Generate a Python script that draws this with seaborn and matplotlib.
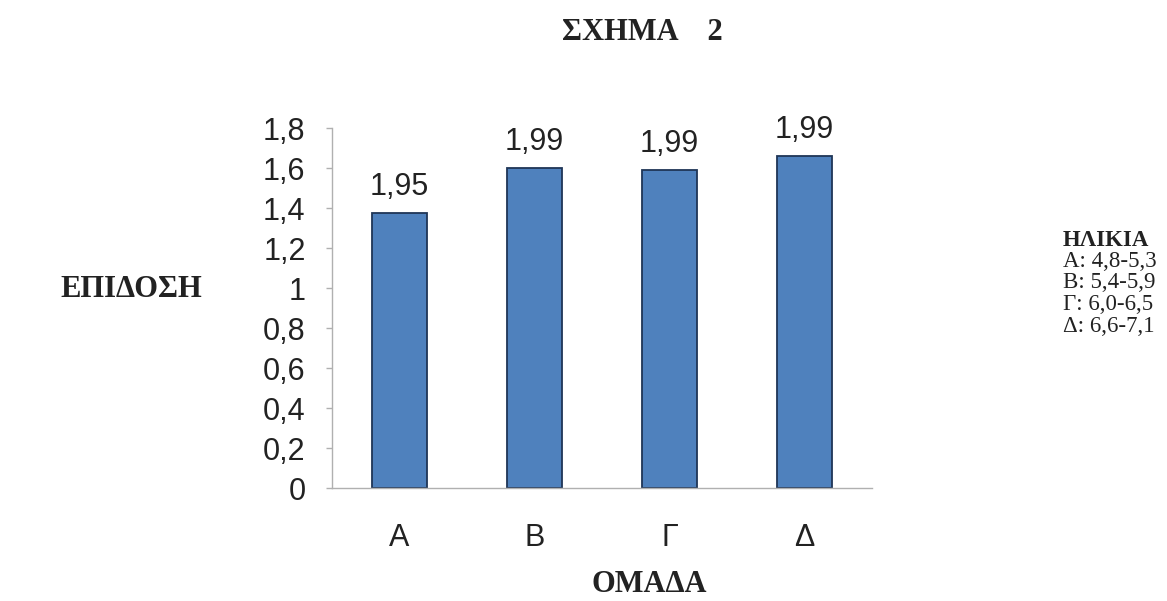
import matplotlib
matplotlib.use("Agg")
import matplotlib.pyplot as plt
import seaborn as sns
import pandas as pd

# Group performance by age group
groups = ["Α", "Β", "Γ", "Δ"]
performance = [1.375, 1.60, 1.59, 1.66]
bar_notes = ["1,95", "1,99", "1,99", "1,99"]

y_ticks = [0, 0.2, 0.4, 0.6, 0.8, 1.0, 1.2, 1.4, 1.6, 1.8]
y_tick_labels = ["0", "0,2", "0,4", "0,6", "0,8", "1", "1,2", "1,4", "1,6", "1,8"]

age_title = "ΗΛΙΚΙΑ"
age_ranges = ["Α: 4,8-5,3", "Β: 5,4-5,9", "Γ: 6,0-6,5", "Δ: 6,6-7,1"]

sns.set_style("white")
plt.rcParams["font.family"] = ["Liberation Sans", "DejaVu Sans"]

df = pd.DataFrame({"group": groups, "value": performance})

W, H = 1167, 601
fig = plt.figure(figsize=(W / 100, H / 100), dpi=100)
ax = fig.add_axes([0.2845, 0.188, 0.4627, 0.599])

sns.barplot(data=df, x="group", y="value", color="#4F81BD", width=0.41,
            edgecolor="#1F3556", linewidth=1.3, saturation=1, ax=ax)

for i, (v, note) in enumerate(zip(performance, bar_notes)):
    ax.annotate(note, (i, v), xytext=(0, 8), textcoords="offset points",
                ha="center", va="bottom", fontsize=22, color="#222222")

ax.set_xlim(-0.5, 3.5)
ax.set_ylim(0, 1.8)
ax.set_yticks(y_ticks)
ax.set_yticklabels(y_tick_labels, fontsize=22, color="#222222")
ax.set_xticks(range(len(groups)))
ax.set_xticklabels(groups, fontsize=22, color="#222222")
ax.set_xticks([-0.5, 0.5, 1.5, 2.5, 3.5], minor=True)
ax.tick_params(axis="x", which="major", length=0, pad=25)
ax.tick_params(axis="x", which="minor", length=5, color="#B0B0B0", width=1, direction="out")
ax.tick_params(axis="y", which="major", length=4, color="#B0B0B0", width=1,
               direction="out", left=True, pad=15)
ax.set_xlabel("")
ax.set_ylabel("")

for side in ("top", "right"):
    ax.spines[side].set_visible(False)
for side in ("left", "bottom"):
    ax.spines[side].set_color("#B0B0B0")
    ax.spines[side].set_linewidth(1)

serif = ["Liberation Serif", "DejaVu Serif"]
ink = "#222222"


def fx(px):
    return px / W


def fy(py):
    return 1 - py / H


fig.text(fx(642), fy(40), "ΣΧΗΜΑ    2", family=serif, fontweight="bold",
         fontsize=22, ha="center", va="baseline", color=ink)
fig.text(fx(649), fy(592), "ΟΜΑΔΑ", family=serif, fontweight="bold",
         fontsize=22, ha="center", va="baseline", color=ink)
fig.text(fx(131), fy(297), "ΕΠΙΔΟΣΗ", family=serif, fontweight="bold",
         fontsize=22, ha="center", va="baseline", color=ink)

fig.text(fx(1063), fy(246), age_title, family=serif, fontweight="bold",
         fontsize=16.5, ha="left", va="baseline", color=ink)
for k, line in enumerate(age_ranges):
    fig.text(fx(1063), fy(267 + k * 21.5), line, family=serif,
             fontsize=16.5, ha="left", va="baseline", color=ink)

fig.savefig("out.png", dpi=100, facecolor="white")
